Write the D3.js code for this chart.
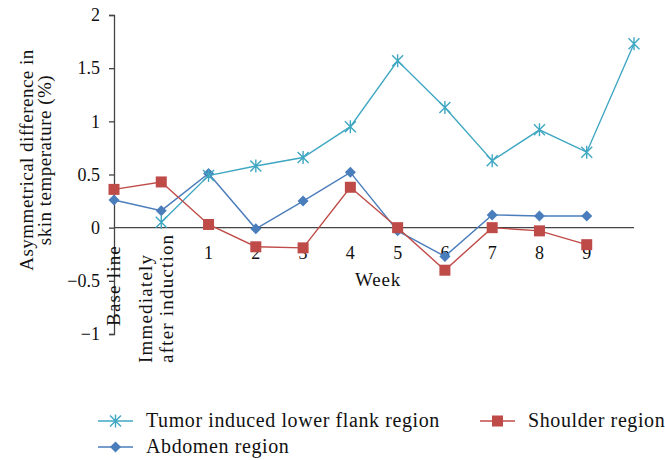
<!DOCTYPE html>
<html>
<head>
<meta charset="utf-8">
<script src="https://d3js.org/d3.v7.min.js"></script>
<style>
  body { margin: 0; background: #fff; }
  text { font-family: "Liberation Serif", "DejaVu Serif", serif; fill: #111; }
</style>
</head>
<body>
<script>
// categories along the x axis (last slot has no label)
const categories = ["Base line", "Immediately|after induction", "1", "2", "3", "4", "5", "6", "7", "8", "9", ""];
const yTicks = [-1, -0.5, 0, 0.5, 1, 1.5, 2];

const tumor = [null, 0.05, 0.49, 0.58, 0.66, 0.95, 1.57, 1.13, 0.63, 0.92, 0.71, 1.73];
const abdomen = [0.26, 0.16, 0.51, -0.01, 0.25, 0.52, -0.03, -0.27, 0.12, 0.11, 0.11, null];
const shoulder = [0.36, 0.43, 0.03, -0.18, -0.19, 0.38, 0.0, -0.40, 0.0, -0.03, -0.16, null];

const seriesNames = ["Tumor induced lower flank region", "Shoulder region", "Abdomen region"];
const seriesColors = ["#3fa7c2", "#bf4b48", "#4a7dbb"];

const W = 665, H = 460;
const svg = d3.select("body").append("svg")
  .attr("width", W)
  .attr("height", H);

const x = d3.scalePoint()
  .domain(d3.range(categories.length))
  .range([114, 634]);
const y = d3.scaleLinear()
  .domain([-1, 2])
  .range([334, 15]);

// y axis
const yAxis = svg.append("g")
  .attr("transform", "translate(114,0)")
  .call(d3.axisLeft(y).tickValues(yTicks).tickSize(5).tickPadding(9).tickFormat(d3.format("")));
yAxis.select(".domain").attr("stroke", "#444").attr("stroke-width", 1.3);
yAxis.selectAll(".tick line").attr("stroke", "#444").attr("stroke-width", 1.3);
yAxis.selectAll(".tick text")
  .attr("font-size", 18)
  .attr("font-family", "Liberation Serif, serif")
  .attr("fill", "#111");

// x axis line at zero
svg.append("line")
  .attr("x1", x(0)).attr("x2", x(categories.length - 1))
  .attr("y1", y(0)).attr("y2", y(0))
  .attr("stroke", "#444")
  .attr("stroke-width", 1.3);

// category labels
categories.forEach(function(c, i) {
  if (c === "") return;
  if (i === 0) {
    svg.append("text")
      .text(c)
      .attr("transform", "translate(" + (x(i) + 6) + ",245) rotate(-90)")
      .attr("text-anchor", "end")
      .attr("font-size", 19)
      .attr("letter-spacing", 1.2);
  } else if (c.indexOf("|") >= 0) {
    const parts = c.split("|");
    parts.forEach(function(p, j) {
      svg.append("text")
        .text(p)
        .attr("transform", "translate(" + (x(i) - 9 + j * 21) + ",363) rotate(-90)")
        .attr("text-anchor", "start")
        .attr("font-size", 19)
        .attr("letter-spacing", 1.2);
    });
  } else {
    svg.append("text")
      .text(c)
      .attr("x", x(i))
      .attr("y", 259)
      .attr("text-anchor", "middle")
      .attr("font-size", 18);
  }
});

// axis titles
svg.append("text")
  .text("Week")
  .attr("x", 378)
  .attr("y", 286)
  .attr("text-anchor", "middle")
  .attr("font-size", 19)
  .attr("letter-spacing", 0.8);

const yTitle = svg.append("text")
  .attr("transform", "translate(0,160) rotate(-90)")
  .attr("text-anchor", "middle")
  .attr("font-size", 19)
  .attr("letter-spacing", 0.5);
yTitle.append("tspan").attr("x", 0).attr("y", 33).text("Asymmetrical difference in");
yTitle.append("tspan").attr("x", 0).attr("y", 51).text("skin temperature (%)");

// markers
function drawMarker(g, type, color, cx, cy) {
  if (type === "square") {
    g.append("rect")
      .attr("x", cx - 5.5).attr("y", cy - 5.5)
      .attr("width", 11).attr("height", 11)
      .attr("fill", color);
  } else if (type === "diamond") {
    g.append("path")
      .attr("d", "M" + cx + "," + (cy - 5.5) + "L" + (cx + 5.5) + "," + cy + "L" + cx + "," + (cy + 5.5) + "L" + (cx - 5.5) + "," + cy + "Z")
      .attr("fill", color);
  } else {
    const r = 5.5;
    g.append("path")
      .attr("d", "M" + (cx - r) + "," + (cy - r) + "L" + (cx + r) + "," + (cy + r) +
                 "M" + (cx - r) + "," + (cy + r) + "L" + (cx + r) + "," + (cy - r) +
                 "M" + cx + "," + (cy - r - 1) + "L" + cx + "," + (cy + r + 1))
      .attr("stroke", color)
      .attr("stroke-width", 1.4)
      .attr("fill", "none");
  }
}

const series = [
  { values: tumor, color: seriesColors[0], marker: "star" },
  { values: shoulder, color: seriesColors[1], marker: "square" },
  { values: abdomen, color: seriesColors[2], marker: "diamond" }
];

const line = d3.line()
  .defined(function(d) { return d !== null; })
  .x(function(d, i) { return x(i); })
  .y(function(d) { return y(d); });

// draw order: abdomen, tumor, shoulder
[2, 0, 1].forEach(function(k) {
  const s = series[k];
  const g = svg.append("g");
  g.append("path")
    .datum(s.values)
    .attr("fill", "none")
    .attr("stroke", s.color)
    .attr("stroke-width", 1.4)
    .attr("d", line);
  s.values.forEach(function(v, i) {
    if (v === null) return;
    drawMarker(g, s.marker, s.color, x(i), y(v));
  });
});

// legend
const legendItems = [
  { s: 0, lx: 98, ly: 421 },
  { s: 1, lx: 480, ly: 421 },
  { s: 2, lx: 98, ly: 447 }
];
legendItems.forEach(function(it) {
  const s = series[it.s];
  const g = svg.append("g");
  g.append("line")
    .attr("x1", it.lx).attr("x2", it.lx + 35)
    .attr("y1", it.ly).attr("y2", it.ly)
    .attr("stroke", s.color)
    .attr("stroke-width", 1.4);
  drawMarker(g, s.marker, s.color, it.lx + 17.5, it.ly);
  g.append("text")
    .text(seriesNames[it.s])
    .attr("x", it.lx + 48)
    .attr("y", it.ly + 6)
    .attr("font-size", 20)
    .attr("letter-spacing", 0.6);
});
</script>
</body>
</html>
